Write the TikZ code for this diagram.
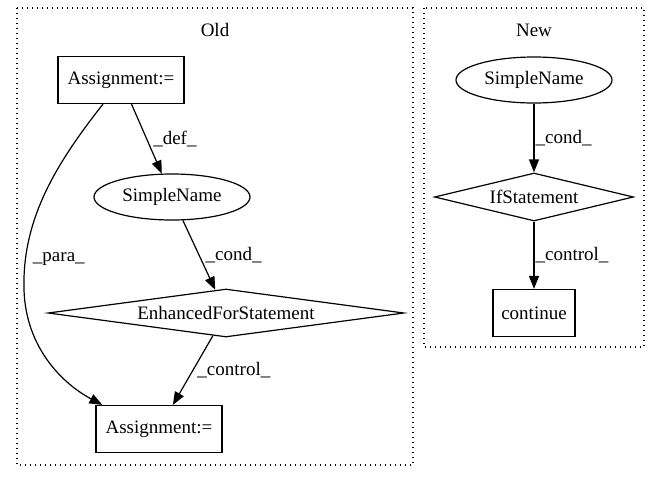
\documentclass[tikz,border=0pt]{standalone}
\usepackage{fontspec}
\setmainfont{Liberation Serif}
\usetikzlibrary{shapes.geometric,arrows.meta}
\begin{document}
\begin{tikzpicture}[x=1pt,y=-1pt,
  font=\fontsize{19}{22}\selectfont,
  line width=1.2pt,
  every node/.style={inner sep=0pt},
  cluster/.style={draw, line width=1.1pt, dash pattern=on 1.4pt off 3.6pt},
  boxnode/.style={draw, rectangle, minimum height=47pt},
  ellnode/.style={draw, ellipse, minimum width=156pt, minimum height=46pt},
  dianode/.style={draw, diamond, minimum height=48pt},
  edge/.style={-{Triangle[length=13pt,width=10pt]}},
  elabel/.style={anchor=west, inner sep=1pt}]
\useasboundingbox (0,0) rectangle (659,480);
\draw[cluster] (17,8) rectangle (413,465);
\node (oldlbl) at (215,30) {Old};
\draw[cluster] (424,8) rectangle (644,347);
\node (newlbl) at (534,30) {New};
\node[boxnode, minimum width=126pt] (a1) at (121,80) {Assignment:=};
\node[ellnode] (sn1) at (172,197) {SimpleName};
\node[dianode, minimum width=356pt, shape aspect=7.4] (efs) at (226,313) {EnhancedForStatement};
\node[boxnode, minimum width=126pt] (a2) at (159,429) {Assignment:=};
\node[ellnode] (sn2) at (534,80) {SimpleName};
\node[dianode, minimum width=199pt, shape aspect=4.1] (ifs) at (534,197) {IfStatement};
\node[boxnode, minimum width=82pt] (cont) at (534,313) {continue};
\draw[edge] (a1) -- (sn1) node[midway, elabel, xshift=5pt] {\_def\_};
\draw[edge] (sn1) -- (efs) node[midway, elabel, xshift=5pt] {\_cond\_};
\draw[edge] (efs) -- (a2) node[midway, elabel, xshift=3pt] {\_control\_};
\draw[edge] ([xshift=-18pt]a1.south) .. controls (55,165) and (22,220) .. (24,290) node[pos=0.85, elabel, xshift=6pt] {\_para\_} .. controls (26,350) and (65,385) .. ([xshift=7pt]a2.north west);
\draw[edge] (sn2) -- (ifs) node[midway, elabel] {\_cond\_};
\draw[edge] (ifs) -- (cont) node[midway, elabel] {\_control\_};
\end{tikzpicture}
\end{document}
